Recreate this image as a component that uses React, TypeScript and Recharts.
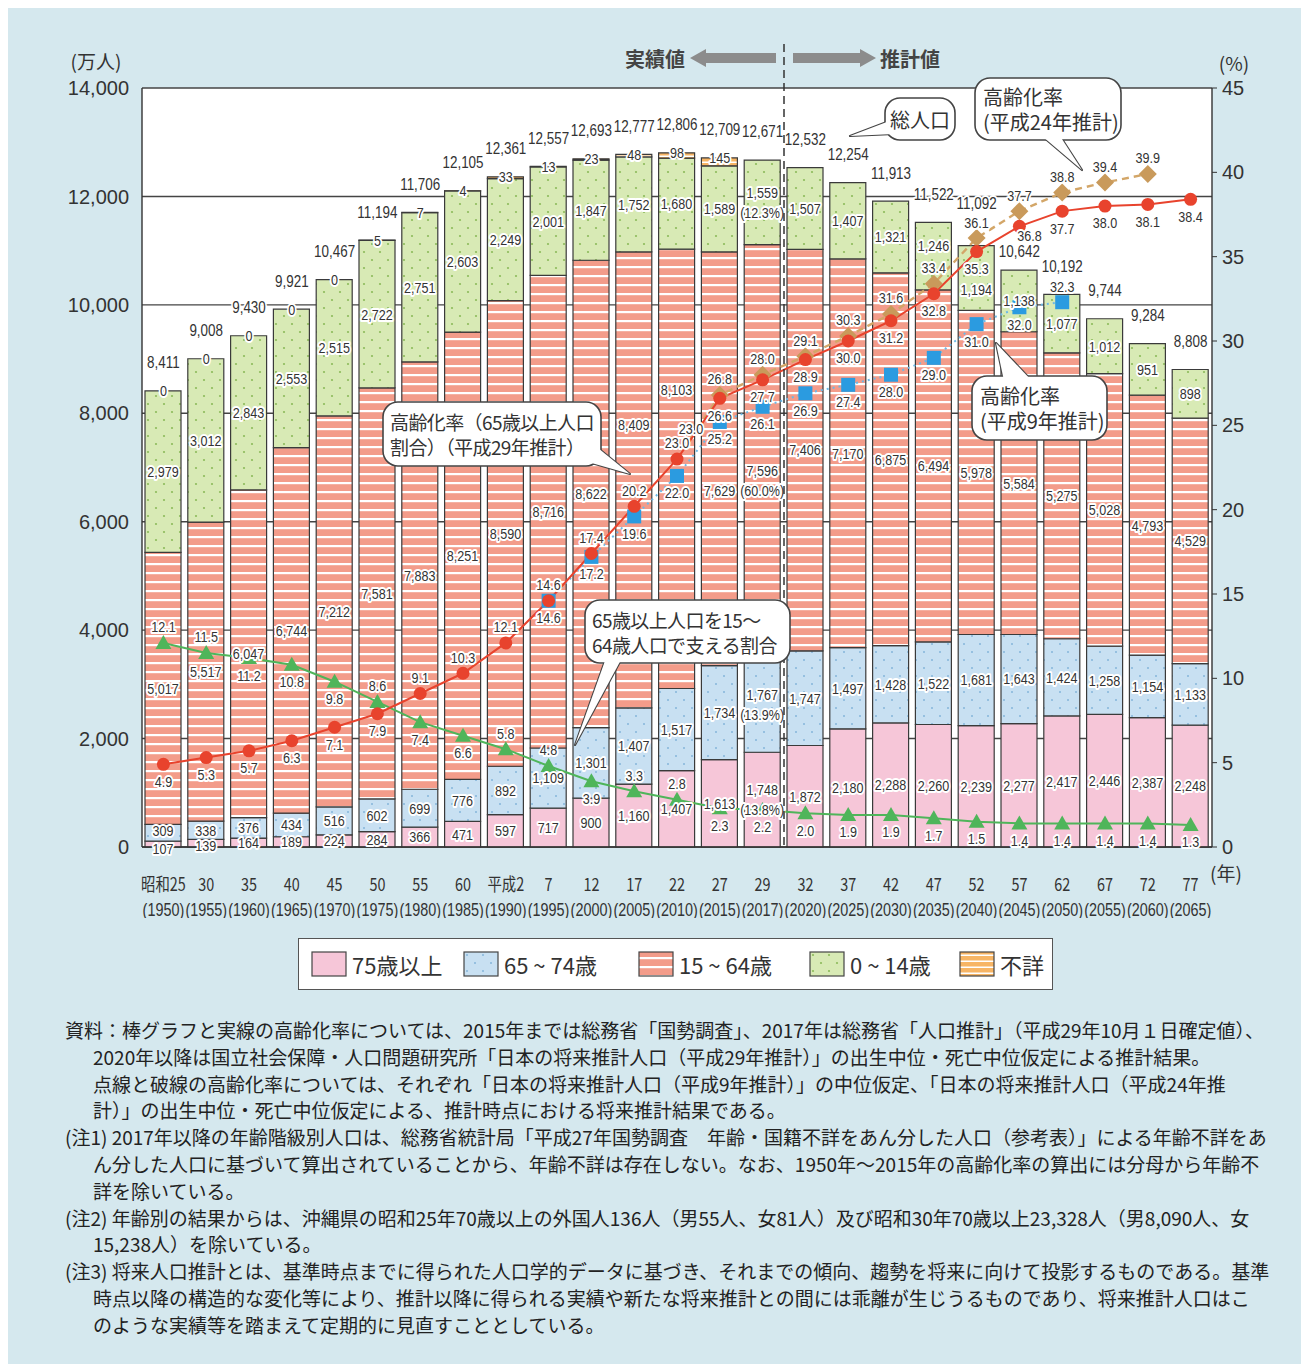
import React from "react";
import { ComposedChart, Bar, Line, XAxis, YAxis, CartesianGrid, LabelList } from "recharts";

const eras = ["昭和25", "30", "35", "40", "45", "50", "55", "60", "平成2", "7", "12", "17", "22", "27", "29", "32", "37", "42", "47", "52", "57", "62", "67", "72", "77"];
const years = ["1950", "1955", "1960", "1965", "1970", "1975", "1980", "1985", "1990", "1995", "2000", "2005", "2010", "2015", "2017", "2020", "2025", "2030", "2035", "2040", "2045", "2050", "2055", "2060", "2065"];

// 万人
const over75 = [107, 139, 164, 189, 224, 284, 366, 471, 597, 717, 900, 1160, 1407, 1613, 1748, 1872, 2180, 2288, 2260, 2239, 2277, 2417, 2446, 2387, 2248];
const age65to74 = [309, 338, 376, 434, 516, 602, 699, 776, 892, 1109, 1301, 1407, 1517, 1734, 1767, 1747, 1497, 1428, 1522, 1681, 1643, 1424, 1258, 1154, 1133];
const age15to64 = [5017, 5517, 6047, 6744, 7212, 7581, 7883, 8251, 8590, 8716, 8622, 8409, 8103, 7629, 7596, 7406, 7170, 6875, 6494, 5978, 5584, 5275, 5028, 4793, 4529];
const age0to14 = [2979, 3012, 2843, 2553, 2515, 2722, 2751, 2603, 2249, 2001, 1847, 1752, 1680, 1589, 1559, 1507, 1407, 1321, 1246, 1194, 1138, 1077, 1012, 951, 898];
const unknownAge = [0, 0, 0, 0, 0, 5, 7, 4, 33, 13, 23, 48, 98, 145, null, null, null, null, null, null, null, null, null, null, null];
const totalPop = [8411, 9008, 9430, 9921, 10467, 11194, 11706, 12105, 12361, 12557, 12693, 12777, 12806, 12709, 12671, 12532, 12254, 11913, 11522, 11092, 10642, 10192, 9744, 9284, 8808];
// 2017年の構成比 (75歳以上, 65~74歳, 15~64歳, 0~14歳)
const share2017 = ["(13.8%)", "(13.9%)", "(60.0%)", "(12.3%)"];

// %
const agingRate = [4.9, 5.3, 5.7, 6.3, 7.1, 7.9, 9.1, 10.3, 12.1, 14.6, 17.4, 20.2, 23.0, 26.6, 27.7, 28.9, 30.0, 31.2, 32.8, 35.3, 36.8, 37.7, 38.0, 38.1, 38.4];
const agingRateH9 = [null, null, null, null, null, null, null, null, null, 14.6, 17.2, 19.6, 22.0, 25.2, 26.1, 26.9, 27.4, 28.0, 29.0, 31.0, 32.0, 32.3, null, null, null];
const agingRateH24 = [null, null, null, null, null, null, null, null, null, null, null, null, 23.0, 26.8, 28.0, 29.1, 30.3, 31.6, 33.4, 36.1, 37.7, 38.8, 39.4, 39.9, null];
const supportRatio = [12.1, 11.5, 11.2, 10.8, 9.8, 8.6, 7.4, 6.6, 5.8, 4.8, 3.9, 3.3, 2.8, 2.3, 2.2, 2.0, 1.9, 1.9, 1.7, 1.5, 1.4, 1.4, 1.4, 1.4, 1.3];

const rows = years.map((year, i) => ({
  year,
  a75: over75[i],
  a65: age65to74[i],
  a15: age15to64[i],
  a0: age0to14[i],
  unk: unknownAge[i] ?? 0,
  total: totalPop[i],
  rate: agingRate[i],
  rateH9: agingRateH9[i],
  rateH24: agingRateH24[i],
  support: supportRatio[i],
}));

const SANS = "'Liberation Sans',Arial,sans-serif";
const JP = "'Noto Sans CJK JP','Noto Sans',sans-serif";
const INK = "#333";
const fmt = (v: number) => v.toLocaleString("en-US");

const RED = "#e8432d";
const BLUE = "#2b9be0";
const GOLD = "#c99a5b";
const GREEN = "#4fb55a";

// label nudges where labels crowd each other (px); key = "series-index"
const segNudge: Record<string, number> = {
  "0-0": 4,
  "0-1": 2,
  "1-0": -2,
  "2-11": -55,
  "2-12": -79,
  "2-13": 32,
  "2-14": 30,
  "3-18": -11,
  "3-19": 12,
};
const totalLift: Record<number, number> = { 19: 42, 20: 18 };
const lineNudge: Record<string, [number, number]> = { "rate-20": [10, -8], "rateH24-12": [14, -14] };

function Patterns({ p }: { p: string }) {
  return (
    <defs>
      <pattern id={`${p}-a75`} width="10" height="10" patternUnits="userSpaceOnUse">
        <rect width="10" height="10" fill="#f6c6d8" />
      </pattern>
      <pattern id={`${p}-a65`} width="16" height="16" patternUnits="userSpaceOnUse">
        <rect width="16" height="16" fill="#c8e0f2" />
        <circle cx="4" cy="4" r="1" fill="#86b6da" />
        <circle cx="12" cy="12" r="1" fill="#86b6da" />
      </pattern>
      <pattern id={`${p}-a15`} width="10" height="9" patternUnits="userSpaceOnUse">
        <rect width="10" height="9" fill="#f39c8a" />
        <rect y="6" width="10" height="2.2" fill="#fff" />
      </pattern>
      <pattern id={`${p}-a0`} width="16" height="16" patternUnits="userSpaceOnUse">
        <rect width="16" height="16" fill="#d8eab5" />
        <circle cx="4" cy="4" r="1.1" fill="#8dbb5b" />
        <circle cx="12" cy="12" r="1.1" fill="#8dbb5b" />
      </pattern>
      <pattern id={`${p}-unk`} width="10" height="6" patternUnits="userSpaceOnUse">
        <rect width="10" height="6" fill="#f7b565" />
        <rect y="3.5" width="10" height="1.5" fill="#fff" />
      </pattern>
    </defs>
  );
}

// condensed number text with a white halo
function Halo({ x, y, children, size = 15, sx = 0.84 }: any) {
  return (
    <text
      transform={`translate(${x},${y}) scale(${sx},1)`}
      textAnchor="middle"
      dominantBaseline="central"
      fontSize={size}
      fontFamily={SANS}
      fill={INK}
      stroke="#fff"
      strokeWidth={4}
      strokeLinejoin="round"
      paintOrder="stroke"
    >
      {children}
    </text>
  );
}

const segLabel = (shareIdx: number) => (props: any) => {
  const { x, y, width, height, value, index } = props;
  if (value == null) return null;
  const cx = x + width / 2;
  const cy = y + height / 2 + (segNudge[`${shareIdx}-${index}`] ?? 0);
  if (index === 14) {
    return (
      <g>
        <Halo x={cx} y={cy - 10}>{fmt(value)}</Halo>
        <Halo x={cx} y={cy + 10}>{share2017[shareIdx]}</Halo>
      </g>
    );
  }
  return <Halo x={cx} y={cy}>{fmt(value)}</Halo>;
};

// 不詳 value at the top of the stack, total population above it
const topLabel = (props: any) => {
  const { x, y, value, index } = props;
  if (x == null || y == null) return null;
  const u = unknownAge[index];
  return (
    <g>
      {u != null && <Halo x={x} y={y}>{fmt(u)}</Halo>}
      <Halo x={x} y={y - (totalLift[index] ?? 28)} size={16}>{fmt(value)}</Halo>
    </g>
  );
};

const redAbove = new Set([6, 7, 8, 9, 10, 11, 12]);
const greenAbove = new Set([0, 1, 5, 8, 9, 11, 12]);

const pointLabel = (name: string, above: (i: number) => boolean) => (props: any) => {
  const { x, y, value, index } = props;
  if (value == null || x == null || y == null) return null;
  const [dx, dy] = lineNudge[`${name}-${index}`] ?? [0, 0];
  return <Halo x={x + dx} y={(above(index) ? y - 16 : y + 17) + dy}>{value.toFixed(1)}</Halo>;
};

const dotRenderer = (shape: string, color: string, skip?: (i: number) => boolean) => (p: any) => {
  const { cx, cy, index, value } = p;
  const key = `${shape}-${index}`;
  if (value == null || cx == null || cy == null || (skip && skip(index))) return <g key={key} />;
  if (shape === "circle") return <circle key={key} cx={cx} cy={cy} r={6.5} fill={color} />;
  if (shape === "square") return <rect key={key} x={cx - 7} y={cy - 7} width={14} height={14} fill={color} />;
  if (shape === "diamond")
    return <polygon key={key} points={`${cx},${cy - 9} ${cx + 9},${cy} ${cx},${cy + 9} ${cx - 9},${cy}`} fill={color} />;
  return <polygon key={key} points={`${cx},${cy - 8} ${cx + 8},${cy + 6} ${cx - 8},${cy + 6}`} fill={color} />;
};

const XTick = (props: any) => {
  const { x, y, payload } = props;
  const i = years.indexOf(payload.value);
  const common = { textAnchor: "middle" as const, dominantBaseline: "central" as const, fontSize: 18, fill: INK };
  return (
    <g>
      <text transform={`translate(${x},${y + 28}) scale(0.8,1)`} {...common} fontFamily={JP}>
        {eras[i]}
      </text>
      <text transform={`translate(${x},${y + 54}) scale(0.8,1)`} {...common} fontFamily={SANS}>
        ({years[i]})
      </text>
    </g>
  );
};

function Callout({ x, y, w, h, base, tip, lines, cx, size = 20 }: any) {
  const tri = `${base[0]},${base[1]} ${tip[0]},${tip[1]} ${base[2]},${base[3]}`;
  return (
    <g>
      <polygon points={tri} fill="#fff" stroke="#444" strokeWidth={2.2} strokeLinejoin="round" />
      <rect x={x} y={y} width={w} height={h} rx={15} fill="#fff" stroke="#444" strokeWidth={1.6} />
      <polygon points={tri} fill="#fff" />
      {lines.map((t: string, k: number) => (
        <text
          key={k}
          x={cx ?? x + w / 2}
          y={y + h / 2 + (k - (lines.length - 1) / 2) * 25}
          textAnchor={cx ? "start" : "middle"}
          dominantBaseline="central"
          fontSize={size}
          fontFamily={JP}
          fill={INK}
          letterSpacing={size < 20 ? -0.6 : 0}
        >
          {t}
        </text>
      ))}
    </g>
  );
}

function Overlay() {
  return (
    <svg width={1301} height={910} style={{ position: "absolute", left: 0, top: 0, pointerEvents: "none" }}>
      <line x1={776} y1={36} x2={776} y2={839} stroke="#333" strokeWidth={1.5} strokeDasharray="8 5" />
      <text x={647} y={50} textAnchor="middle" dominantBaseline="central" fontSize={20} fontFamily={JP} fontWeight={700} fill="#444">
        実績値
      </text>
      <polygon points="682,50 698,41 698,45 768,45 768,55 698,55 698,59" fill="#8c8c8c" />
      <polygon points="868,50 852,41 852,45 785,45 785,55 852,55 852,59" fill="#8c8c8c" />
      <text x={902} y={50} textAnchor="middle" dominantBaseline="central" fontSize={20} fontFamily={JP} fontWeight={700} fill="#444">
        推計値
      </text>
      <text x={88} y={52} textAnchor="middle" dominantBaseline="central" fontSize={19} fontFamily={JP} fill={INK}>
        (万人)
      </text>
      <text x={1226} y={54} textAnchor="middle" dominantBaseline="central" fontSize={19} fontFamily={JP} fill={INK}>
        (%)
      </text>
      <text x={1218} y={864} textAnchor="middle" dominantBaseline="central" fontSize={19} fontFamily={JP} fill={INK}>
        (年)
      </text>
      <Callout x={877} y={90} w={70} h={42} base={[884, 112, 886, 126]} tip={[842, 128]} lines={["総人口"]} />
      <Callout x={967} y={70} w={146} h={62} base={[1034, 128, 1052, 128]} tip={[1074, 162]} lines={["高齢化率", "(平成24年推計)"]} cx={975} />
      <Callout
        x={375}
        y={394}
        w={218}
        h={64}
        base={[580, 454, 590, 440]}
        tip={[622, 466]}
        lines={["高齢化率（65歳以上人口", "割合）（平成29年推計）"]}
        cx={382}
        size={19}
      />
      <Callout
        x={577}
        y={592}
        w={205}
        h={63}
        base={[598, 650, 614, 650]}
        tip={[567, 737]}
        lines={["65歳以上人口を15～", "64歳人口で支える割合"]}
        cx={584}
        size={19}
      />
      <Callout x={964} y={368} w={135} h={64} base={[996, 373, 1024, 373]} tip={[988, 335]} lines={["高齢化率", "(平成9年推計)"]} cx={972} />
    </svg>
  );
}

const legendItems = [
  { id: "a75", label: "75歳以上", left: 12 },
  { id: "a65", label: "65 ~ 74歳", left: 164 },
  { id: "a15", label: "15 ~ 64歳", left: 339 },
  { id: "a0", label: "0 ~ 14歳", left: 510 },
  { id: "unk", label: "不詳", left: 660 },
];

function LegendBox() {
  return (
    <div
      style={{
        position: "absolute",
        left: 290,
        top: 930,
        width: 755,
        height: 52,
        border: "1.5px solid #555",
        background: "#fff",
        boxSizing: "border-box",
      }}
    >
      {legendItems.map((it) => (
        <div key={it.id} style={{ position: "absolute", left: it.left, top: 12, display: "flex", alignItems: "center" }}>
          <svg width={36} height={26}>
            <Patterns p={`lg-${it.id}`} />
            <rect x={1} y={1} width={34} height={24} fill={`url(#lg-${it.id}-${it.id})`} stroke="#444" strokeWidth={1.2} />
          </svg>
          <span style={{ marginLeft: 5, fontSize: 22, fontFamily: JP, color: INK, whiteSpace: "nowrap", lineHeight: "26px" }}>
            {it.label}
          </span>
        </div>
      ))}
    </div>
  );
}

const noteLines = [
  { t: "資料：棒グラフと実線の高齢化率については、2015年までは総務省「国勢調査」、2017年は総務省「人口推計」（平成29年10月１日確定値）、", indent: false },
  { t: "2020年以降は国立社会保障・人口問題研究所「日本の将来推計人口（平成29年推計）」の出生中位・死亡中位仮定による推計結果。", indent: true },
  { t: "点線と破線の高齢化率については、それぞれ「日本の将来推計人口（平成9年推計）」の中位仮定、「日本の将来推計人口（平成24年推", indent: true },
  { t: "計）」の出生中位・死亡中位仮定による、推計時点における将来推計結果である。", indent: true },
  { t: "(注1) 2017年以降の年齢階級別人口は、総務省統計局「平成27年国勢調査　年齢・国籍不詳をあん分した人口（参考表）」による年齢不詳をあ", indent: false },
  { t: "ん分した人口に基づいて算出されていることから、年齢不詳は存在しない。なお、1950年～2015年の高齢化率の算出には分母から年齢不", indent: true },
  { t: "詳を除いている。", indent: true },
  { t: "(注2) 年齢別の結果からは、沖縄県の昭和25年70歳以上の外国人136人（男55人、女81人）及び昭和30年70歳以上23,328人（男8,090人、女", indent: false },
  { t: "15,238人）を除いている。", indent: true },
  { t: "(注3) 将来人口推計とは、基準時点までに得られた人口学的データに基づき、それまでの傾向、趨勢を将来に向けて投影するものである。基準", indent: false },
  { t: "時点以降の構造的な変化等により、推計以降に得られる実績や新たな将来推計との間には乖離が生じうるものであり、将来推計人口はこ", indent: true },
  { t: "のような実績等を踏まえて定期的に見直すこととしている。", indent: true },
];

function Notes() {
  return (
    <div style={{ position: "absolute", left: 57, top: 1009, fontFamily: JP, fontSize: 19, lineHeight: "26.8px", color: "#222" }}>
      {noteLines.map((l, i) => (
        <div key={i} style={{ whiteSpace: "nowrap", paddingLeft: l.indent ? 28 : 0 }}>
          {l.t}
        </div>
      ))}
    </div>
  );
}

const barProps = { yAxisId: "left", stackId: "s", stroke: "#3a3a3a", strokeWidth: 1.2, isAnimationActive: false };

export default function App() {
  return (
    <div style={{ position: "relative", width: 1301, height: 1356, background: "#d5e8ee", overflow: "hidden" }}>
      <ComposedChart width={1301} height={910} data={rows} margin={{ top: 80, right: 0, bottom: 0, left: 0 }} barSize={36}>
        <Patterns p="c" />
        <CartesianGrid yAxisId="left" vertical={false} stroke="#444" strokeWidth={1.4} fill="#fff" />
        <XAxis dataKey="year" tick={<XTick />} tickLine={false} axisLine={{ stroke: "#333", strokeWidth: 1.4 }} height={71} interval={0} />
        <YAxis
          yAxisId="left"
          width={134}
          domain={[0, 14000]}
          ticks={[0, 2000, 4000, 6000, 8000, 10000, 12000, 14000]}
          tickFormatter={fmt}
          tickLine={false}
          tickSize={0}
          tickMargin={13}
          axisLine={{ stroke: "#333", strokeWidth: 1.4 }}
          tick={{ fontSize: 20, fill: INK, fontFamily: SANS }}
        />
        <YAxis
          yAxisId="right"
          orientation="right"
          width={97}
          domain={[0, 45]}
          ticks={[0, 5, 10, 15, 20, 25, 30, 35, 40, 45]}
          tickSize={5}
          tickMargin={5}
          tickLine={{ stroke: "#333" }}
          axisLine={{ stroke: "#333", strokeWidth: 1.4 }}
          tick={{ fontSize: 20, fill: INK, fontFamily: SANS, textAnchor: "start" }}
        />
        <Bar {...barProps} dataKey="a75" fill="url(#c-a75)">
          <LabelList dataKey="a75" content={segLabel(0)} />
        </Bar>
        <Bar {...barProps} dataKey="a65" fill="url(#c-a65)">
          <LabelList dataKey="a65" content={segLabel(1)} />
        </Bar>
        <Bar {...barProps} dataKey="a15" fill="url(#c-a15)">
          <LabelList dataKey="a15" content={segLabel(2)} />
        </Bar>
        <Bar {...barProps} dataKey="a0" fill="url(#c-a0)">
          <LabelList dataKey="a0" content={segLabel(3)} />
        </Bar>
        <Bar {...barProps} dataKey="unk" fill="url(#c-unk)" />
        <Line yAxisId="left" dataKey="total" stroke="none" dot={false} activeDot={false} isAnimationActive={false}>
          <LabelList dataKey="total" content={topLabel} />
        </Line>
        <Line
          yAxisId="right"
          dataKey="support"
          stroke={GREEN}
          strokeWidth={2}
          dot={dotRenderer("triangle", GREEN)}
          isAnimationActive={false}
        >
          <LabelList dataKey="support" content={pointLabel("support", (i) => greenAbove.has(i))} />
        </Line>
        <Line
          yAxisId="right"
          dataKey="rateH9"
          stroke="#6cb8e6"
          strokeWidth={2}
          strokeDasharray="2 4"
          dot={dotRenderer("square", BLUE)}
          isAnimationActive={false}
        >
          <LabelList dataKey="rateH9" content={pointLabel("rateH9", (i) => i === 21)} />
        </Line>
        <Line
          yAxisId="right"
          dataKey="rateH24"
          stroke="#d3a668"
          strokeWidth={2.4}
          strokeDasharray="7 5"
          dot={dotRenderer("diamond", GOLD, (i) => i === 12)}
          isAnimationActive={false}
        >
          <LabelList dataKey="rateH24" content={pointLabel("rateH24", () => true)} />
        </Line>
        <Line yAxisId="right" dataKey="rate" stroke={RED} strokeWidth={2} dot={dotRenderer("circle", RED)} isAnimationActive={false}>
          <LabelList dataKey="rate" content={pointLabel("rate", (i) => redAbove.has(i))} />
        </Line>
      </ComposedChart>
      <Overlay />
      <LegendBox />
      <Notes />
    </div>
  );
}
